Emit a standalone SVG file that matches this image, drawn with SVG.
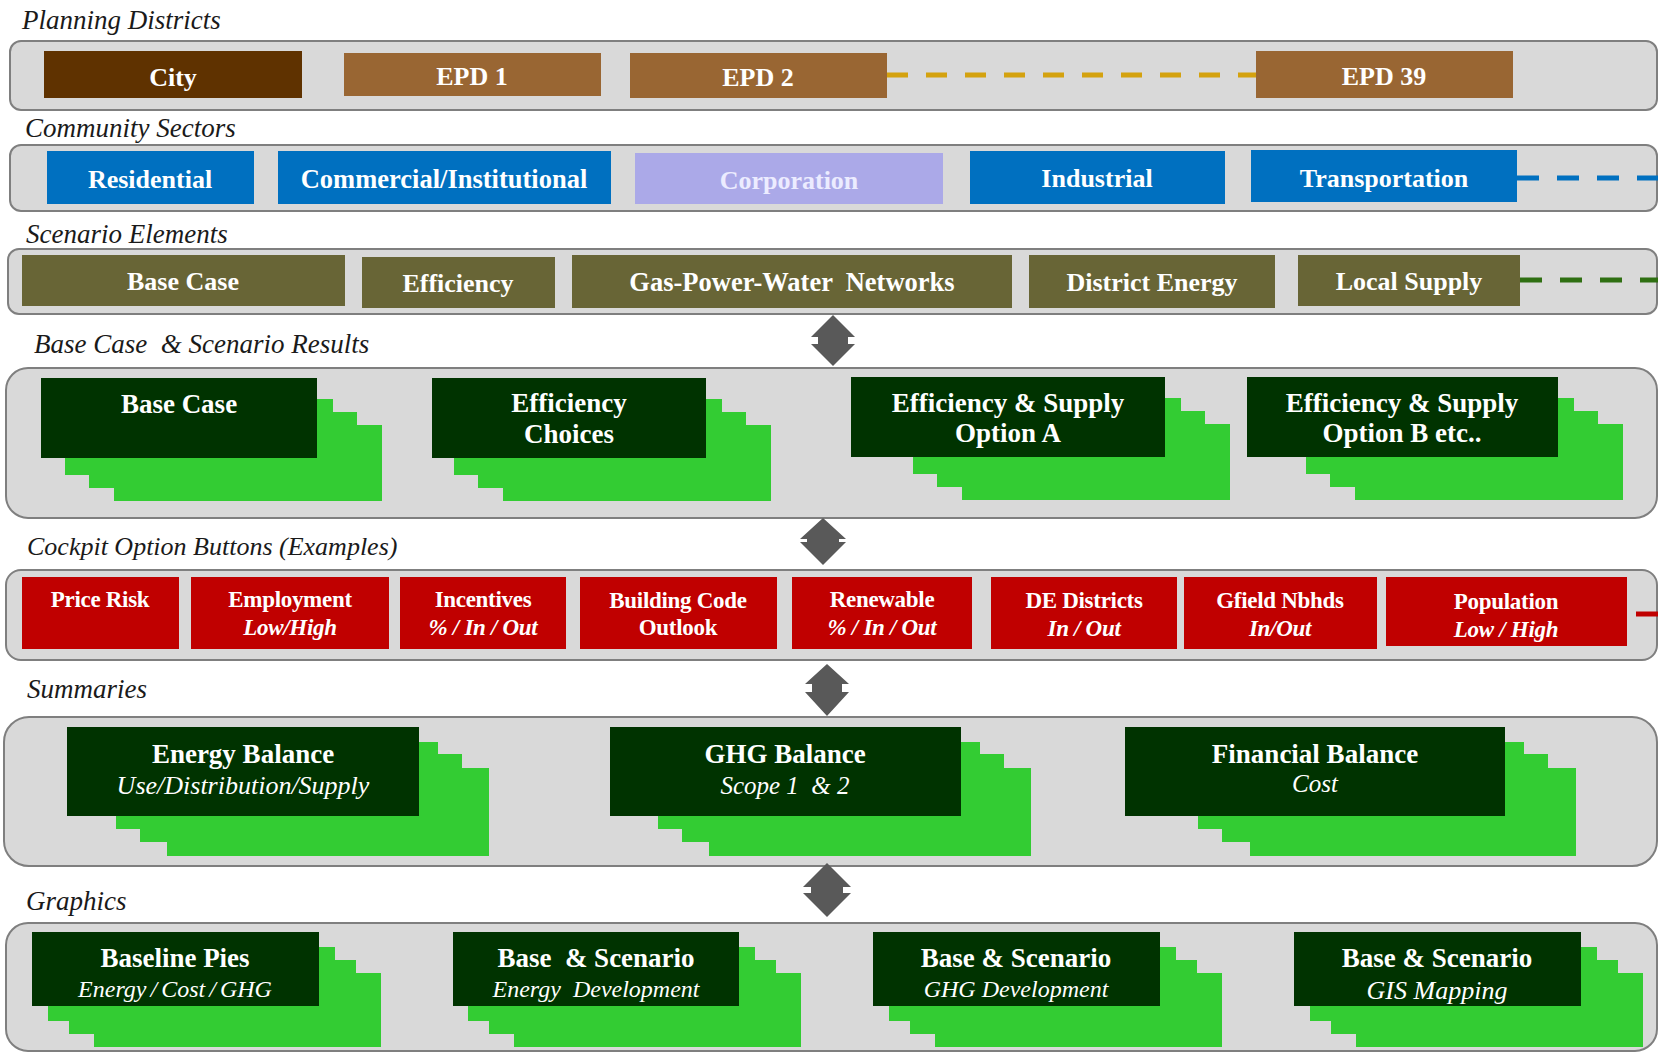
<svg xmlns="http://www.w3.org/2000/svg" width="1660" height="1054" viewBox="0 0 1660 1054">
<style>
.panel{fill:#d9d9d9;stroke:#7f7f7f;stroke-width:2}
.lbl{font-family:"Liberation Serif","Times New Roman",serif;font-style:italic;font-size:27px;fill:#1a1a1a}
.bt{font-family:"Liberation Serif","Times New Roman",serif;font-weight:bold;font-size:26px;fill:#ffffff;text-anchor:middle}
.ct{font-family:"Liberation Serif","Times New Roman",serif;font-weight:bold;font-size:27px;fill:#ffffff;text-anchor:middle}
.cs{font-family:"Liberation Serif","Times New Roman",serif;font-style:italic;font-size:25px;fill:#ffffff;text-anchor:middle}
.rb{font-family:"Liberation Serif","Times New Roman",serif;font-weight:bold;font-size:23px;fill:#ffffff;text-anchor:middle;letter-spacing:-0.3px}
.ri{font-family:"Liberation Serif","Times New Roman",serif;font-weight:bold;font-style:italic;font-size:23px;fill:#ffffff;text-anchor:middle;letter-spacing:-0.3px}
.city{fill:#5f3200}.epd{fill:#996633}
.blue{fill:#0070c0}.lav{fill:#aba9e8}
.olive{fill:#686536}
.red{fill:#c00000}
.f{fill:#003300}.g{fill:#33cc33}
.arr{fill:#595959}
.dash{fill:none;stroke-width:5}
</style>

<!-- Section labels -->
<g id="labels">
<text class="lbl" x="22" y="29">Planning Districts</text>
<text class="lbl" x="25" y="137">Community Sectors</text>
<text class="lbl" x="26" y="243">Scenario Elements</text>
<text class="lbl" x="34" y="353" xml:space="preserve">Base Case  &amp; Scenario Results</text>
<text class="lbl" x="27" y="555" style="font-size:26px">Cockpit Option Buttons (Examples)</text>
<text class="lbl" x="27" y="698">Summaries</text>
<text class="lbl" x="26" y="910">Graphics</text>
</g>

<!-- Panels -->
<g id="panels">
<rect class="panel" x="10" y="41" width="1647" height="69" rx="11"/>
<rect class="panel" x="10" y="145" width="1647" height="66" rx="11"/>
<rect class="panel" x="8" y="249" width="1649" height="65" rx="11"/>
<rect class="panel" x="6" y="368" width="1651" height="150" rx="22"/>
<rect class="panel" x="6" y="570" width="1651" height="90" rx="15"/>
<rect class="panel" x="4" y="717" width="1653" height="149" rx="25"/>
<rect class="panel" x="6" y="923" width="1651" height="128" rx="22"/>
</g>

<!-- Connectors -->
<g id="connectors">
<line class="dash" x1="887" y1="75" x2="1256" y2="75" stroke="#d4a20f" stroke-width="6" stroke-dasharray="21 18"/>
<line class="dash" x1="1517" y1="178" x2="1658" y2="178" stroke="#0070c0" stroke-dasharray="22 18"/>
<line class="dash" x1="1520" y1="280" x2="1658" y2="280" stroke="#2f6f12" stroke-dasharray="22 18"/>
<line class="dash" x1="1636" y1="614" x2="1658" y2="614" stroke="#c00000" stroke-width="4"/>
<polygon id="arrow1" class="arr" points="833,315 855,337 848,337 848,344 855,344 833,366 811,344 818,344 818,337 811,337"/>
<polygon id="arrow2" class="arr" points="823,518 846,539 839,539 839,542 846,542 823,565 800,542 807,542 807,539 800,539"/>
<polygon id="arrow3" class="arr" points="827,664 849,684 842,684 842,692 849,692 827,716 805,692 812,692 812,684 805,684"/>
<polygon id="arrow4" class="arr" points="827,863 851,887 843,887 843,893 851,893 827,917 803,893 811,893 811,887 803,887"/>
</g>

<!-- Planning Districts -->
<g id="city"><rect class="city" x="44" y="51" width="258" height="47"/><text class="bt" x="173" y="86">City</text></g>
<g id="epd1"><rect class="epd" x="344" y="53" width="257" height="43"/><text class="bt" x="472" y="85">EPD 1</text></g>
<g id="epd2"><rect class="epd" x="630" y="53" width="257" height="45"/><text class="bt" x="758" y="86">EPD 2</text></g>
<g id="epd39"><rect class="epd" x="1256" y="51" width="257" height="47"/><text class="bt" x="1384" y="85">EPD 39</text></g>

<!-- Community Sectors -->
<g id="residential"><rect class="blue" x="47" y="151" width="207" height="53"/><text class="bt" x="150" y="188">Residential</text></g>
<g id="commercial"><rect class="blue" x="278" y="151" width="333" height="53"/><text class="bt" x="444" y="188" style="font-size:26.5px">Commercial/Institutional</text></g>
<g id="corporation"><rect class="lav" x="635" y="153" width="308" height="51"/><text class="bt" x="789" y="189" style="fill:#ececff">Corporation</text></g>
<g id="industrial"><rect class="blue" x="970" y="151" width="255" height="53"/><text class="bt" x="1097" y="187">Industrial</text></g>
<g id="transportation"><rect class="blue" x="1251" y="150" width="266" height="52"/><text class="bt" x="1384" y="187">Transportation</text></g>

<!-- Scenario Elements -->
<g id="se-base"><rect class="olive" x="22" y="255" width="323" height="51"/><text class="bt" x="183" y="290">Base Case</text></g>
<g id="se-eff"><rect class="olive" x="362" y="257" width="193" height="51"/><text class="bt" x="458" y="292">Efficiency</text></g>
<g id="se-gpw"><rect class="olive" x="572" y="255" width="440" height="53"/><text class="bt" x="792" y="291" xml:space="preserve" style="font-size:26.5px">Gas-Power-Water  Networks</text></g>
<g id="se-de"><rect class="olive" x="1029" y="255" width="246" height="53"/><text class="bt" x="1152" y="291">District Energy</text></g>
<g id="se-ls"><rect class="olive" x="1298" y="255" width="222" height="51"/><text class="bt" x="1409" y="290">Local Supply</text></g>

<!-- Base Case & Scenario Results -->
<g id="res-base">
<rect class="g" x="65" y="399" width="268" height="76"/><rect class="g" x="89" y="412" width="268" height="76"/><rect class="g" x="114" y="425" width="268" height="76"/>
<rect class="f" x="41" y="378" width="276" height="80"/>
<text class="ct" x="179" y="413">Base Case</text>
</g>
<g id="res-eff">
<rect class="g" x="454" y="399" width="268" height="76"/><rect class="g" x="478" y="412" width="268" height="76"/><rect class="g" x="503" y="425" width="268" height="76"/>
<rect class="f" x="432" y="378" width="274" height="80"/>
<text class="ct" x="569" y="412">Efficiency</text><text class="ct" x="569" y="443">Choices</text>
</g>
<g id="res-a">
<rect class="g" x="913" y="398" width="268" height="76"/><rect class="g" x="937" y="411" width="268" height="76"/><rect class="g" x="962" y="424" width="268" height="76"/>
<rect class="f" x="851" y="377" width="314" height="80"/>
<text class="ct" x="1008" y="412">Efficiency &amp; Supply</text><text class="ct" x="1008" y="442">Option A</text>
</g>
<g id="res-b">
<rect class="g" x="1306" y="398" width="268" height="76"/><rect class="g" x="1330" y="411" width="268" height="76"/><rect class="g" x="1355" y="424" width="268" height="76"/>
<rect class="f" x="1247" y="377" width="311" height="80"/>
<text class="ct" x="1402" y="412">Efficiency &amp; Supply</text><text class="ct" x="1402" y="442">Option B etc..</text>
</g>

<!-- Cockpit Option Buttons -->
<g id="btn-price"><rect class="red" x="22" y="577" width="157" height="72"/><text class="rb" x="100" y="607">Price Risk</text></g>
<g id="btn-emp"><rect class="red" x="191" y="577" width="198" height="72"/><text class="rb" x="290" y="607">Employment</text><text class="ri" x="290" y="635">Low/High</text></g>
<g id="btn-inc"><rect class="red" x="400" y="577" width="166" height="72"/><text class="rb" x="483" y="607">Incentives</text><text class="ri" x="483" y="635">% / In / Out</text></g>
<g id="btn-bc"><rect class="red" x="580" y="577" width="197" height="72"/><text class="rb" x="678" y="608">Building Code</text><text class="rb" x="678" y="635">Outlook</text></g>
<g id="btn-ren"><rect class="red" x="792" y="577" width="180" height="72"/><text class="rb" x="882" y="607">Renewable</text><text class="ri" x="882" y="635">% / In / Out</text></g>
<g id="btn-de"><rect class="red" x="991" y="577" width="186" height="72"/><text class="rb" x="1084" y="608">DE Districts</text><text class="ri" x="1084" y="636">In / Out</text></g>
<g id="btn-gf"><rect class="red" x="1184" y="577" width="193" height="72"/><text class="rb" x="1280" y="608">Gfield Nbhds</text><text class="ri" x="1280" y="636">In/Out</text></g>
<g id="btn-pop"><rect class="red" x="1386" y="577" width="241" height="69"/><text class="rb" x="1506" y="609">Population</text><text class="ri" x="1506" y="637">Low / High</text></g>

<!-- Summaries -->
<g id="sum-energy">
<rect class="g" x="116" y="742" width="322" height="87"/><rect class="g" x="140" y="754" width="322" height="88"/><rect class="g" x="167" y="768" width="322" height="88"/>
<rect class="f" x="67" y="727" width="352" height="89"/>
<text class="ct" x="243" y="763">Energy Balance</text><text class="cs" x="243" y="794" style="font-size:26px">Use/Distribution/Supply</text>
</g>
<g id="sum-ghg">
<rect class="g" x="658" y="742" width="322" height="87"/><rect class="g" x="682" y="754" width="322" height="88"/><rect class="g" x="709" y="768" width="322" height="88"/>
<rect class="f" x="610" y="727" width="351" height="89"/>
<text class="ct" x="785" y="763">GHG Balance</text><text class="cs" x="785" y="794" xml:space="preserve">Scope 1  &amp; 2</text>
</g>
<g id="sum-fin">
<rect class="g" x="1198" y="742" width="326" height="87"/><rect class="g" x="1222" y="754" width="326" height="88"/><rect class="g" x="1250" y="768" width="326" height="88"/>
<rect class="f" x="1125" y="727" width="380" height="89"/>
<text class="ct" x="1315" y="763">Financial Balance</text><text class="cs" x="1315" y="792">Cost</text>
</g>

<!-- Graphics -->
<g id="gr-pies">
<rect class="g" x="48" y="947" width="287" height="74"/><rect class="g" x="69" y="960" width="287" height="74"/><rect class="g" x="94" y="973" width="287" height="74"/>
<rect class="f" x="32" y="932" width="287" height="74"/>
<text class="ct" x="175" y="967">Baseline Pies</text><text class="cs" x="175" y="997" style="font-size:24px;word-spacing:-2px">Energy / Cost / GHG</text>
</g>
<g id="gr-energy">
<rect class="g" x="468" y="947" width="287" height="74"/><rect class="g" x="489" y="960" width="287" height="74"/><rect class="g" x="514" y="973" width="287" height="74"/>
<rect class="f" x="453" y="932" width="286" height="74"/>
<text class="ct" x="596" y="967" xml:space="preserve">Base  &amp; Scenario</text><text class="cs" x="596" y="997" xml:space="preserve" style="font-size:24px">Energy  Development</text>
</g>
<g id="gr-ghg">
<rect class="g" x="889" y="947" width="287" height="74"/><rect class="g" x="910" y="960" width="287" height="74"/><rect class="g" x="935" y="973" width="287" height="74"/>
<rect class="f" x="873" y="932" width="287" height="74"/>
<text class="ct" x="1016" y="967">Base &amp; Scenario</text><text class="cs" x="1016" y="997" style="font-size:24px">GHG Development</text>
</g>
<g id="gr-gis">
<rect class="g" x="1310" y="947" width="287" height="74"/><rect class="g" x="1331" y="960" width="287" height="74"/><rect class="g" x="1356" y="973" width="287" height="74"/>
<rect class="f" x="1294" y="932" width="287" height="74"/>
<text class="ct" x="1437" y="967">Base &amp; Scenario</text><text class="cs" x="1437" y="999" style="font-size:26px">GIS Mapping</text>
</g>
</svg>
